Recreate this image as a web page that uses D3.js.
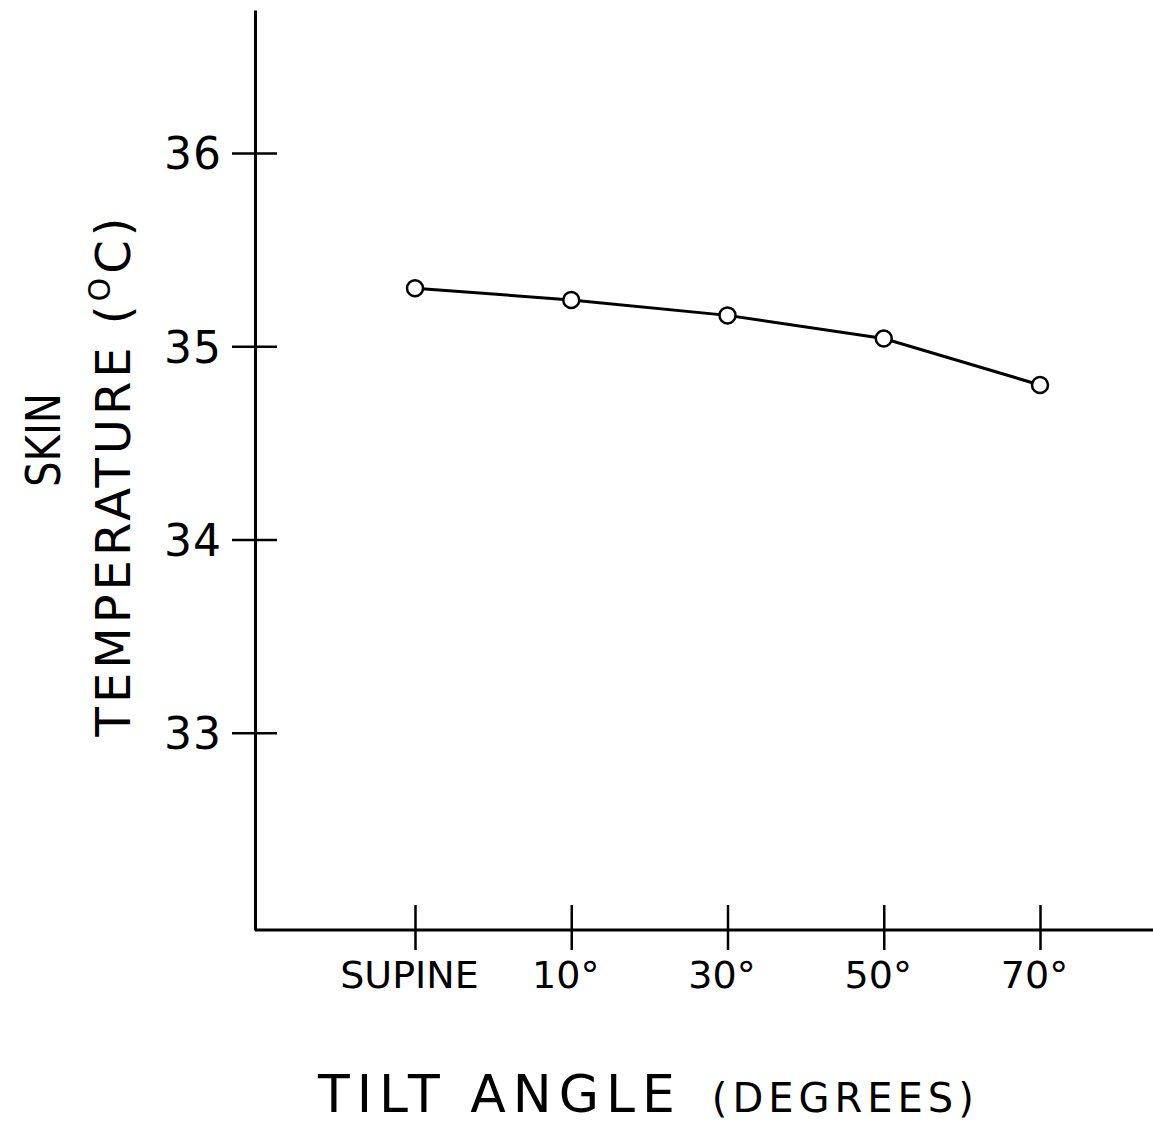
<!DOCTYPE html>
<html lang="en">
<head>
<meta charset="UTF-8">
<title>Skin temperature vs tilt angle</title>
<script src="https://d3js.org/d3.v7.min.js"></script>
<style>
  body { margin: 0; background: #fff; }
  svg text { font-family: "DejaVu Sans", sans-serif; fill: #000; }
</style>
</head>
<body>
<svg id="chart" width="1153" height="1128"></svg>
<script>
// data
const tiltLabels = ["SUPINE", "10°", "30°", "50°", "70°"];
const skinTemp = [35.30, 35.24, 35.16, 35.04, 34.80];
const yTicks = [33, 34, 35, 36];

const svg = d3.select("#chart");

const x = d3.scalePoint().domain(tiltLabels).range([415, 1040]);
const y = d3.scaleLinear().domain([31.98, 36.74]).range([930, 10]);
const axisX = 255, axisY = 930;

// y axis, ticks crossing the line
const gy = svg.append("g")
    .attr("transform", `translate(${axisX},0)`)
    .call(d3.axisLeft(y).tickValues(yTicks).tickFormat(d3.format("d"))
        .tickSizeInner(23).tickSizeOuter(0).tickPadding(10));
gy.select(".domain").attr("stroke-width", 3);
gy.selectAll(".tick line").attr("x1", 22).attr("stroke-width", 2.5);
gy.selectAll(".tick text")
    .attr("font-size", 44)
    .attr("letter-spacing", 1)
    .attr("dy", "0.36em");

// x axis line runs the full width
svg.append("line")
    .attr("x1", axisX).attr("x2", 1153)
    .attr("y1", axisY).attr("y2", axisY)
    .attr("stroke", "#000").attr("stroke-width", 3);

const gx = svg.append("g")
    .attr("transform", `translate(0,${axisY})`)
    .call(d3.axisBottom(x).tickSizeInner(20).tickSizeOuter(0).tickPadding(11));
gx.select(".domain").remove();
gx.selectAll(".tick line").attr("y1", -25).attr("stroke-width", 2.5);
gx.selectAll(".tick text")
    .attr("font-size", 38)
    .attr("dx", -6);

// data line + open circles
const line = d3.line()
    .x((d, i) => x(tiltLabels[i]))
    .y(d => y(d));

svg.append("path")
    .datum(skinTemp)
    .attr("d", line)
    .attr("fill", "none")
    .attr("stroke", "#000")
    .attr("stroke-width", 3);

svg.selectAll("circle.pt")
    .data(skinTemp)
    .join("circle")
    .attr("class", "pt")
    .attr("cx", (d, i) => x(tiltLabels[i]))
    .attr("cy", d => y(d))
    .attr("r", 8)
    .attr("fill", "#fff")
    .attr("stroke", "#000")
    .attr("stroke-width", 2.5);

// axis titles
svg.append("text")
    .attr("transform", "translate(60,440) rotate(-90)")
    .attr("text-anchor", "middle")
    .attr("font-size", 48)
    .attr("textLength", 94)
    .attr("lengthAdjust", "spacingAndGlyphs")
    .text("SKIN");

const tt = svg.append("text")
    .attr("transform", "translate(130,475) rotate(-90)")
    .attr("text-anchor", "middle")
    .attr("font-size", 48)
    .attr("letter-spacing", 4);
tt.append("tspan").text("TEMPERATURE (");
tt.append("tspan").attr("font-size", 30).attr("dy", -20).text("O");
tt.append("tspan").attr("dy", 20).text("C)");

const xt = svg.append("text")
    .attr("x", 318).attr("y", 1112)
    .attr("font-size", 52);
xt.append("tspan").attr("letter-spacing", 7).text("TILT ANGLE");
xt.append("tspan").attr("font-size", 40).attr("dx", 30).attr("letter-spacing", 5).text("(DEGREES)");
</script>
</body>
</html>
